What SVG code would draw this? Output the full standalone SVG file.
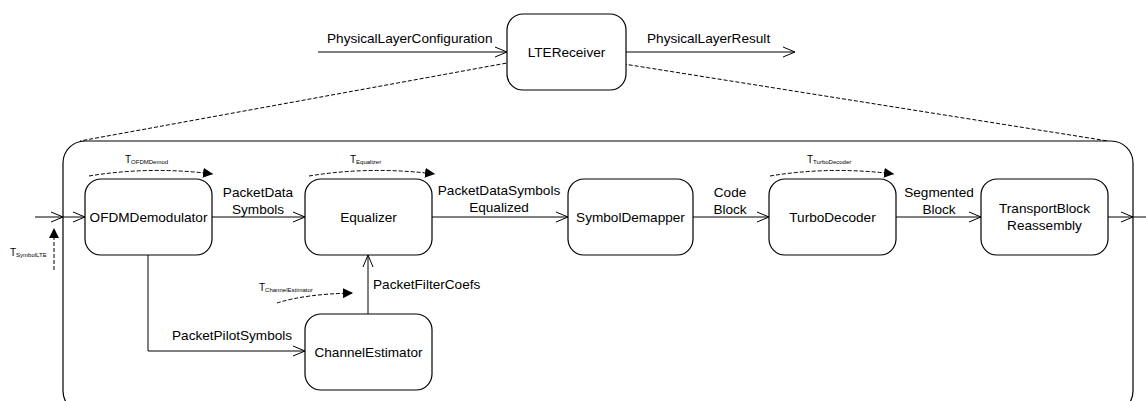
<svg xmlns="http://www.w3.org/2000/svg" width="1146" height="401" viewBox="0 0 1146 401">
<defs>
<marker id="open" markerUnits="userSpaceOnUse" markerWidth="14" markerHeight="12" refX="12" refY="6" orient="auto">
<path d="M0,1 L12,6 L0,11" fill="none" stroke="#000" stroke-width="1"/>
</marker>
<marker id="fill" markerUnits="userSpaceOnUse" markerWidth="12" markerHeight="10" refX="10" refY="5" orient="auto">
<path d="M0,0 L10,5 L0,10 Z" fill="#000"/>
</marker>
</defs>
<style>
.node rect{fill:#fff;stroke:#000;stroke-width:1.2}
text{font-family:"Liberation Sans",Arial,sans-serif;font-size:13.6px;fill:#000}
.c{text-anchor:middle}
.t{font-size:10px}
.s{font-size:6px}
.e{fill:none;stroke:#000;stroke-width:1}
.arr{marker-end:url(#open)}
.d{fill:none;stroke:#000;stroke-width:1;stroke-dasharray:4,2}
.tim{marker-end:url(#fill)}
</style>
<rect width="1146" height="401" fill="#fff"/>
<g id="container">
<rect x="63" y="141" width="1070" height="272" rx="22" fill="none" stroke="#000" stroke-width="1.2"/>
</g>
<g id="connectors">
<line class="e arr" x1="318" y1="52" x2="507" y2="52"/>
<line class="e arr" x1="626" y1="52" x2="795" y2="52"/>
<line class="d" x1="518" y1="61" x2="80" y2="141"/>
<line class="d" x1="605" y1="61" x2="1108" y2="141"/>
<line class="e arr" x1="35" y1="217" x2="63" y2="217"/>
<line class="e arr" x1="63" y1="217" x2="85" y2="217"/>
<line class="e arr" x1="212" y1="217" x2="305" y2="217"/>
<line class="e arr" x1="432" y1="217" x2="568" y2="217"/>
<line class="e arr" x1="693" y1="217" x2="769" y2="217"/>
<line class="e arr" x1="896" y1="217" x2="981" y2="217"/>
<line class="e arr" x1="1108" y1="217" x2="1133" y2="217"/>
<line class="e arr" x1="1133" y1="217" x2="1158" y2="217"/>
<polyline class="e arr" points="148,255 148,351 305,351"/>
<line class="e arr" x1="368" y1="314" x2="368" y2="255"/>
<line class="d tim" x1="54" y1="270" x2="54" y2="228"/>
<path class="d tim" d="M89,176 Q150,166 213,174"/>
<path class="d tim" d="M309,176 Q370,166 435,174"/>
<path class="d tim" d="M770,176 Q830,166 894,174"/>
<path class="d tim" d="M277,303 Q305,294 353,293"/>
</g>
<g id="LTEReceiver" class="node">
<rect x="507" y="14" width="119" height="76" rx="16"/>
<text class="c" x="566.5" y="57">LTEReceiver</text>
</g>
<g id="OFDMDemodulator" class="node">
<rect x="85" y="179" width="127" height="76" rx="16"/>
<text class="c" x="148.5" y="222">OFDMDemodulator</text>
</g>
<g id="Equalizer" class="node">
<rect x="305" y="179" width="127" height="76" rx="16"/>
<text class="c" x="368.5" y="222">Equalizer</text>
</g>
<g id="SymbolDemapper" class="node">
<rect x="568" y="179" width="125" height="76" rx="16"/>
<text class="c" x="630.5" y="222">SymbolDemapper</text>
</g>
<g id="TurboDecoder" class="node">
<rect x="769" y="179" width="127" height="76" rx="16"/>
<text class="c" x="832.5" y="222">TurboDecoder</text>
</g>
<g id="TransportBlockReassembly" class="node">
<rect x="981" y="179" width="127" height="76" rx="16"/>
<text class="c" x="1044.5" y="213">TransportBlock</text>
<text class="c" x="1044.5" y="230">Reassembly</text>
</g>
<g id="ChannelEstimator" class="node">
<rect x="305" y="314" width="127" height="76" rx="16"/>
<text class="c" x="368.5" y="357">ChannelEstimator</text>
</g>
<g id="labels">
<text x="327" y="43">PhysicalLayerConfiguration</text>
<text x="647" y="43">PhysicalLayerResult</text>
<text class="c" x="258" y="197">PacketData</text>
<text class="c" x="258" y="214">Symbols</text>
<text class="c" x="499" y="195">PacketDataSymbols</text>
<text class="c" x="499" y="212">Equalized</text>
<text class="c" x="730" y="197">Code</text>
<text class="c" x="730" y="214">Block</text>
<text class="c" x="939" y="197">Segmented</text>
<text class="c" x="939" y="214">Block</text>
<text x="373" y="289">PacketFilterCoefs</text>
<text x="172" y="340">PacketPilotSymbols</text>
<text class="t" x="10" y="256">T<tspan class="s" dy="1">SymbolLTE</tspan></text>
<text class="t" x="125" y="163">T<tspan class="s" dy="1">OFDMDemod</tspan></text>
<text class="t" x="350" y="163">T<tspan class="s" dy="1">Equalizer</tspan></text>
<text class="t" x="807" y="163">T<tspan class="s" dy="1">TurboDecoder</tspan></text>
<text class="t" x="259" y="291">T<tspan class="s" dy="1">ChannelEstimator</tspan></text>
</g>
</svg>
